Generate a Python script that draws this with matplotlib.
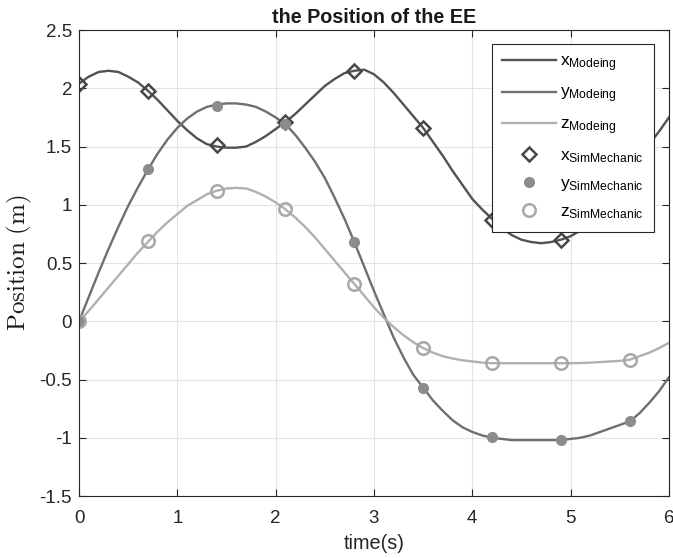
import matplotlib.pyplot as plt
import numpy as np

plt.rcParams['font.family'] = ['Liberation Sans', 'DejaVu Sans']
plt.rcParams['mathtext.fontset'] = 'custom'
plt.rcParams['mathtext.rm'] = 'Liberation Sans'
plt.rcParams['mathtext.it'] = 'Liberation Sans:italic'

# model curves, every 0.1 s
t = np.round(np.arange(0, 6.01, 0.1), 1)
x_model = [2.04, 2.10, 2.14, 2.15, 2.14, 2.10, 2.05, 1.98, 1.90, 1.81,
           1.72, 1.64, 1.57, 1.52, 1.50, 1.49, 1.49, 1.50, 1.54, 1.59,
           1.65, 1.71, 1.78, 1.86, 1.94, 2.02, 2.08, 2.13, 2.15, 2.16,
           2.12, 2.05, 1.96, 1.86, 1.76, 1.66, 1.54, 1.42, 1.29, 1.17,
           1.05, 0.96, 0.88, 0.80, 0.74, 0.70, 0.68, 0.67, 0.68, 0.70,
           0.73, 0.78, 0.86, 0.96, 1.07, 1.18, 1.30, 1.41, 1.52, 1.63, 1.75]
y_model = [0.00, 0.21, 0.42, 0.62, 0.81, 0.99, 1.15, 1.30, 1.44, 1.56,
           1.66, 1.74, 1.80, 1.84, 1.86, 1.87, 1.87, 1.86, 1.84, 1.80,
           1.75, 1.69, 1.60, 1.49, 1.37, 1.23, 1.06, 0.88, 0.68, 0.47,
           0.26, 0.06, -0.14, -0.31, -0.46, -0.57, -0.68, -0.77, -0.85, -0.91,
           -0.95, -0.98, -1.00, -1.01, -1.02, -1.02, -1.02, -1.02, -1.02, -1.02,
           -1.01, -1.00, -0.98, -0.95, -0.92, -0.89, -0.86, -0.79, -0.70, -0.60, -0.48]
z_model = [0.00, 0.09, 0.19, 0.29, 0.39, 0.49, 0.59, 0.68, 0.77, 0.85,
           0.92, 0.99, 1.04, 1.09, 1.12, 1.14, 1.145, 1.14, 1.11, 1.07,
           1.02, 0.96, 0.89, 0.81, 0.72, 0.62, 0.52, 0.42, 0.32, 0.22,
           0.12, 0.03, -0.05, -0.12, -0.18, -0.23, -0.27, -0.30, -0.32, -0.335,
           -0.345, -0.355, -0.36, -0.36, -0.36, -0.36, -0.36, -0.36, -0.36, -0.36,
           -0.36, -0.358, -0.355, -0.35, -0.345, -0.34, -0.33, -0.30, -0.27, -0.23, -0.185]

# SimMechanics samples
t_sim = [0, 0.7, 1.4, 2.1, 2.8, 3.5, 4.2, 4.9, 5.6]
x_sim = [2.04, 1.98, 1.51, 1.71, 2.15, 1.66, 0.87, 0.70, 1.30]
y_sim = [0.0, 1.31, 1.85, 1.69, 0.68, -0.57, -0.99, -1.02, -0.86]
z_sim = [0.0, 0.69, 1.12, 0.96, 0.32, -0.23, -0.36, -0.36, -0.33]

xticks = [0, 1, 2, 3, 4, 5, 6]
yticks = [-1.5, -1, -0.5, 0, 0.5, 1, 1.5, 2, 2.5]
ytick_labels = ['-1.5', '-1', '-0.5', '0', '0.5', '1', '1.5', '2', '2.5']

c_x, c_y, c_z = '#525252', '#6f6f6f', '#b0b0b0'
c_ysim, c_zsim = '#8c8c8c', '#a8a8a8'

fig = plt.figure(figsize=(6.73, 5.58), dpi=100)
ax = fig.add_axes([0.1174, 0.1111, 0.8766, 0.8351])

ax.plot(t, x_model, color=c_x, lw=1.7, label=r'x$_{\mathrm{Modeing}}$')
ax.plot(t, y_model, color=c_y, lw=1.7, label=r'y$_{\mathrm{Modeing}}$')
ax.plot(t, z_model, color=c_z, lw=1.7, label=r'z$_{\mathrm{Modeing}}$')
ax.plot(t_sim, x_sim, ls='none', marker='D', ms=7.5, mfc='none', mec='#474747',
        mew=1.8, label=r'x$_{\mathrm{SimMechanic}}$')
ax.plot(t_sim, y_sim, ls='none', marker='o', ms=7, mfc=c_ysim, mec=c_ysim,
        label=r'y$_{\mathrm{SimMechanic}}$')
ax.plot(t_sim, z_sim, ls='none', marker='o', ms=9, mfc='none', mec=c_zsim,
        mew=1.8, label=r'z$_{\mathrm{SimMechanic}}$')

ax.set_xlim(0, 6)
ax.set_ylim(-1.5, 2.5)
ax.set_xticks(xticks)
ax.set_yticks(yticks)
ax.set_yticklabels(ytick_labels)
ax.grid(True, color='#e3e3e3', lw=0.8)
ax.set_axisbelow(True)
ax.tick_params(direction='in', length=5, width=0.8, colors='#262626',
               labelsize=13.5, top=True, right=True)
ax.tick_params(axis='x', pad=10)
ax.tick_params(axis='y', pad=5)
for s in ax.spines.values():
    s.set_color('#262626')
    s.set_linewidth(0.8)

ax.set_title('the Position of the EE', fontsize=14.2, fontweight='bold',
             color='#1a1a1a', pad=5)
ax.set_xlabel('time(s)', fontsize=14.3, color='#262626', labelpad=5)
ax.set_ylabel(r'$\mathrm{Position\ (m)}$', fontsize=18, color='#1a1a1a',
              math_fontfamily='cm', labelpad=4)

leg = ax.legend(loc='upper right', bbox_to_anchor=(0.975, 0.970), fontsize=12.5,
                handlelength=3.1, labelspacing=0.65, borderpad=0.6,
                handletextpad=0.25, borderaxespad=0, fancybox=False, framealpha=1)
leg.get_frame().set_edgecolor('#262626')
leg.get_frame().set_linewidth(0.8)

fig.savefig('out.png', dpi=100)
